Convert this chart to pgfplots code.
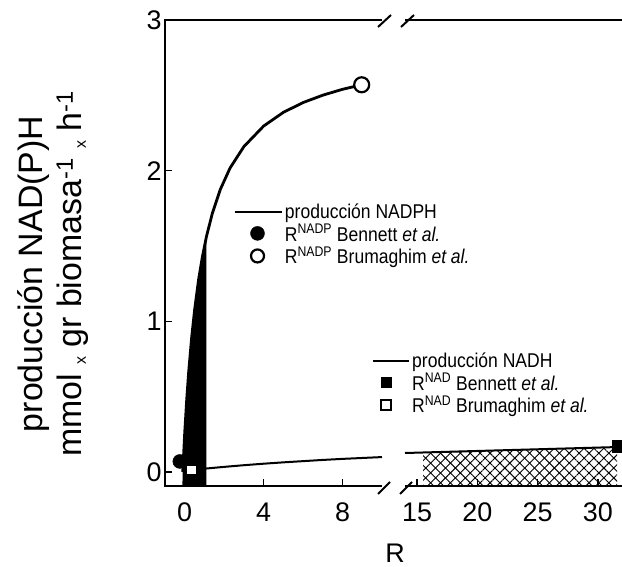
\documentclass[border=0pt]{standalone}
\usepackage{fontspec}
\setmainfont{Liberation Sans}
\usepackage{graphicx}
\usepackage{pgfplots}
\pgfplotsset{compat=1.18}
\usetikzlibrary{patterns.meta}
\newcommand\cnd[1]{\scalebox{0.88}[1]{#1}}
\newcommand\tx{{\fontsize{16}{16}\selectfont\raisebox{-4bp}{x}}}
\begin{document}
\begin{tikzpicture}
\useasboundingbox (0bp,0bp) rectangle (622bp,567bp);
\pgfplotsset{
  common/.style={
    scale only axis, width=217bp, height=466bp, anchor=south west,
    ymin=-0.093, ymax=3,
    axis line style={draw=none},
    clip=false,
    tick align=inside, major tick length=7bp,
    tick style={line width=1.5bp, black},
    xtick pos=left, ytick pos=left,
    /pgf/number format/assume math mode=true,
    ticklabel style={font=\fontsize{27}{30}\selectfont},
    xticklabel style={yshift=-13bp},
    legend cell align=left,
  }}
% ---------------- left panel ----------------
\begin{axis}[common, at={(165bp,81bp)},
  xmin=-1, xmax=10, xtick={0,4,8}, ytick={0,1,2,3},
  ylabel={producción NAD(P)H\\mmol \tx\ gr biomasa\textsuperscript{-1} \tx\ h\textsuperscript{-1}},
  every axis y label/.style={at={(rel axis cs:-0.516,0.455)}, rotate=90, anchor=center,
     align=center, font=\fontsize{34}{40}\selectfont},
  legend style={at={(rel axis cs:0.313,0.61)}, anchor=north west, draw=none, fill=none,
     inner sep=0pt, row sep=0bp, font=\fontsize{20}{20}\selectfont},
]
\addlegendimage{legend image code/.code={\draw[line width=2.8bp] (0bp,0bp) -- (47bp,0bp);}}
\addlegendimage{legend image code/.code={\draw[mark=*, mark size=7bp, mark options={fill=black}] plot coordinates {(23bp,0bp)};}}
\addlegendimage{legend image code/.code={\draw[mark=*, mark size=6.5bp, mark options={fill=white, line width=2.2bp}] plot coordinates {(23bp,0bp)};}}
% Bennett NADP (filled circle)
\addplot[only marks, mark=*, mark size=7bp, black] coordinates {(-0.25,0.07)};
% black shaded region
\addplot[fill=black, draw=none] coordinates {(-0.12,-0.093) (-0.1,0) (0,0.261) (0.1,0.479) (0.2,0.663) (0.35,0.891) (0.5,1.075) (0.7,1.274) (0.9,1.432) (1.1,1.562) (1.1,-0.093)};
% NADPH production
\addplot[line width=2.8bp, black] coordinates {(-0.1,0) (0,0.261) (0.1,0.479) (0.2,0.663) (0.35,0.891) (0.5,1.075) (0.7,1.274) (0.9,1.432) (1.1,1.562) (1.4,1.717) (1.8,1.874) (2.3,2.018) (3,2.160) (4,2.296) (5,2.387) (6,2.452) (7,2.501) (8,2.540) (8.97,2.570)};
% NADH production
\addplot[line width=2bp, black] coordinates {(0.35,0.015) (1,0.022) (2,0.034) (3,0.045) (4,0.055) (5,0.064) (6,0.072) (7,0.080) (8,0.087) (9,0.093) (10,0.099)};
% Brumaghim NAD (open square)
\addplot[only marks, mark=square*, mark size=5bp, mark options={fill=white, line width=1.2bp}, black] coordinates {(0.35,0.013)};
% Brumaghim NADP (open circle)
\addplot[only marks, mark=*, mark size=7.5bp, mark options={fill=white, line width=2.2bp}, black] coordinates {(8.97,2.57)};
\legend{\cnd{producción NADPH},\cnd{R\textsuperscript{NADP} Bennett \textit{et al.}},\cnd{R\textsuperscript{NADP} Brumaghim \textit{et al.}}}
\draw[line width=2bp] (rel axis cs:1,0) -- (rel axis cs:0,0) -- (rel axis cs:0,1) -- (rel axis cs:1,1);
\end{axis}
% ---------------- right panel ----------------
\begin{axis}[common, at={(405bp,81bp)},
  xmin=14, xmax=32, xtick={15,20,25,30}, ytick=\empty,
  legend style={at={(rel axis cs:-0.152,0.29)}, anchor=north west, draw=none, fill=none,
     inner sep=0pt, row sep=0bp, font=\fontsize{20}{20}\selectfont},
]
\addlegendimage{legend image code/.code={\draw[line width=2bp] (0bp,0bp) -- (36bp,0bp);}}
\addlegendimage{legend image code/.code={\draw[mark=square*, mark size=5bp, mark options={fill=black}] plot coordinates {(13bp,0bp)};}}
\addlegendimage{legend image code/.code={\draw[mark=square*, mark size=5bp, mark options={fill=white, line width=1.5bp}] plot coordinates {(13bp,0bp)};}}
\addplot[draw=none, pattern={Lines[angle=45,distance=7bp,line width=0.9bp]}] coordinates {(15.5,-0.093) (15.5,0.126) (31.6,0.162) (31.6,-0.093)};
\addplot[draw=none, pattern={Lines[angle=-45,distance=7bp,line width=0.9bp]}] coordinates {(15.5,-0.093) (15.5,0.126) (31.6,0.162) (31.6,-0.093)};
\addplot[line width=2bp, black] coordinates {(14,0.126) (31.8,0.166)};
\addplot[only marks, mark=square*, mark size=6bp, black] coordinates {(31.65,0.168)};
\legend{\cnd{producción NADH},\cnd{R\textsuperscript{NAD} Bennett \textit{et al.}},\cnd{R\textsuperscript{NAD} Brumaghim \textit{et al.}}}
\draw[line width=2bp] (rel axis cs:0,0) -- (rel axis cs:1,0);
\draw[line width=2bp] (rel axis cs:0,1) -- (rel axis cs:1,1);
\end{axis}
% axis break marks
\draw[line width=2bp] (378bp,73bp) -- (390bp,85bp);
\draw[line width=2bp] (400bp,73bp) -- (412bp,85bp);
\draw[line width=2bp] (378bp,540bp) -- (391bp,552bp);
\draw[line width=2bp] (401bp,540bp) -- (414bp,552bp);
\node[font=\fontsize{27}{30}\selectfont] at (395bp,14bp) {R};
\end{tikzpicture}
\end{document}
